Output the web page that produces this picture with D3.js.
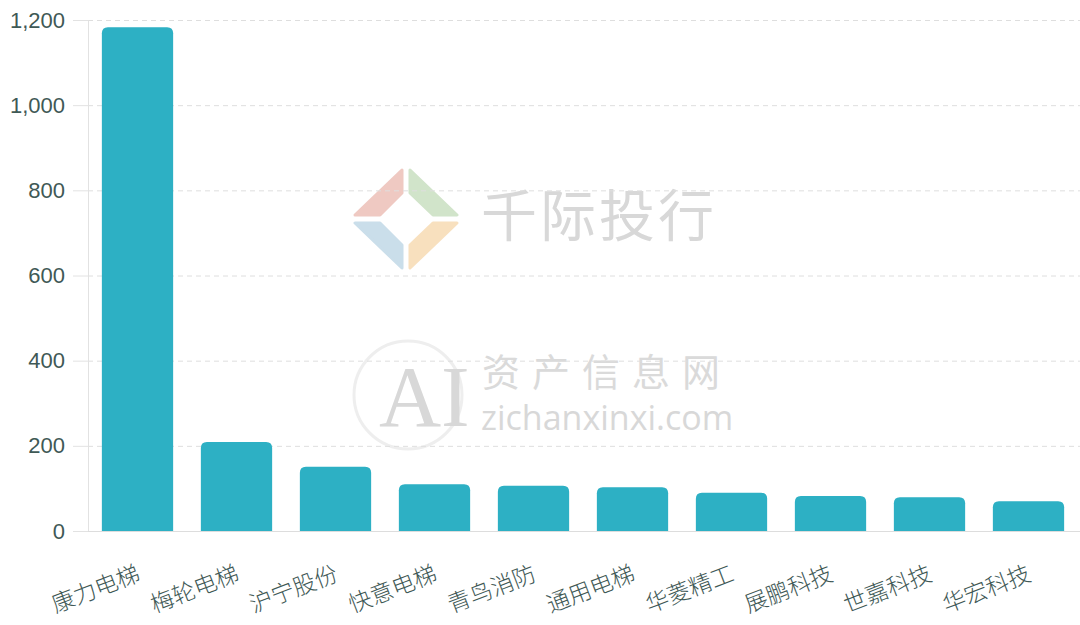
<!DOCTYPE html>
<html><head><meta charset="utf-8">
<script src="https://cdn.jsdelivr.net/npm/d3@7/dist/d3.min.js"></script>
<style>
body{margin:0;background:#fff;}
</style></head>
<body><svg id="c" width="1080" height="625"></svg>
<script>
const categories = ["康力电梯","梅轮电梯","沪宁股份","快意电梯","青鸟消防","通用电梯","华菱精工","展鹏科技","世嘉科技","华宏科技"];
const values = [1183, 209, 151, 110, 106, 103, 90, 82, 79, 70];
const yTicks = [0, 200, 400, 600, 800, 1000, 1200];

(function () {
const svg = d3.select("#c");
const mLeft = 88, mRight = 1078, mTop = 20, mBottom = 531;
const cjk = '"Noto Sans CJK SC", "Noto Sans", sans-serif';

// watermark
const wm = svg.append("g");
const petals = [
  {pts: [[355,215],[402,170],[402,193],[380,215]], c: "#eab7ae"},
  {pts: [[410,170],[457,215],[433,215],[410,193]], c: "#c2dbb9"},
  {pts: [[355,223],[380,223],[402,245],[402,268]], c: "#b9d3e3"},
  {pts: [[433,223],[457,223],[410,268],[410,245]], c: "#f6d6a9"}
];
wm.selectAll("polygon").data(petals).join("polygon")
  .attr("points", d => d.pts.map(p => p.join(",")).join(" "))
  .attr("fill", d => d.c).attr("opacity", 0.75)
  .attr("stroke", d => d.c).attr("stroke-width", 3).attr("stroke-linejoin", "round");
wm.append("circle").attr("cx", 408).attr("cy", 395).attr("r", 54).attr("fill", "none").attr("stroke", "#eeeeee").attr("stroke-width", 3);
wm.append("text").attr("x", 481).attr("y", 236).attr("font-size", 56).attr("letter-spacing", 3)
  .attr("fill", "#d8d8d8").style("font-family", cjk).text("千际投行");
wm.append("text").attr("x", 482).attr("y", 386).attr("font-size", 38).attr("letter-spacing", 12)
  .attr("fill", "#dadada").style("font-family", cjk).text("资产信息网");
wm.append("text").attr("x", 481).attr("y", 430).attr("font-size", 34)
  .attr("fill", "#d8d8d8").style("font-family", '"Open Sans", "DejaVu Sans", sans-serif').text("zichanxinxi.com");
wm.append("text").attr("x", 379).attr("y", 426).attr("font-size", 86)
  .attr("fill", "#d8d8d8").style("font-family", '"Liberation Serif", serif').text("AI");

const x = d3.scaleBand().domain(categories).range([mLeft, mRight]).paddingInner(0.28).paddingOuter(0.14);
const y = d3.scaleLinear().domain([0, 1200]).range([mBottom, mTop]);

// grid
const grid = svg.append("g").attr("transform", `translate(${mLeft},0)`)
  .call(d3.axisLeft(y).tickValues(yTicks).tickSize(-(1080 - mLeft)).tickFormat(""));
grid.select(".domain").remove();
grid.selectAll(".tick line").attr("stroke", "#dedede").attr("stroke-dasharray", "5,4")
  .filter(d => d === 0).attr("stroke-dasharray", null);

// y axis
const ya = svg.append("g").attr("transform", `translate(${mLeft},0)`)
  .call(d3.axisLeft(y).tickValues(yTicks).tickSize(15).tickPadding(8).tickFormat(d3.format(",")));
ya.select(".domain").attr("stroke", "#e2e2e2");
ya.selectAll(".tick line").attr("stroke", "#e2e2e2");
ya.selectAll(".tick text").attr("fill", "#3f5956").attr("font-size", 22)
  .style("font-family", '"Liberation Sans", Arial, sans-serif');

// bars
const r = 6;
svg.append("g").selectAll("path").data(values).join("path")
  .attr("fill", "#2db0c4")
  .attr("d", (d, i) => {
    const x0 = x(categories[i]), w = x.bandwidth(), y0 = y(d), y1 = y(0);
    return `M${x0},${y1}V${y0 + r}Q${x0},${y0} ${x0 + r},${y0}H${x0 + w - r}Q${x0 + w},${y0} ${x0 + w},${y0 + r}V${y1}Z`;
  });

// baseline
svg.append("line").attr("x1", mLeft).attr("x2", 1080).attr("y1", mBottom + 0.5).attr("y2", mBottom + 0.5).attr("stroke", "#dddddd");

// x labels
const xa = svg.append("g").attr("transform", `translate(0,${mBottom})`)
  .call(d3.axisBottom(x).tickSize(0).tickPadding(0));
xa.select(".domain").remove();
xa.selectAll(".tick text")
  .attr("fill", "#3f5956").attr("font-size", 23)
  .style("font-family", cjk).style("font-weight", 300)
  .attr("text-anchor", "end")
  .attr("dy", null)
  .attr("transform", "translate(4,49) rotate(-21)");
})();
</script></body></html>
